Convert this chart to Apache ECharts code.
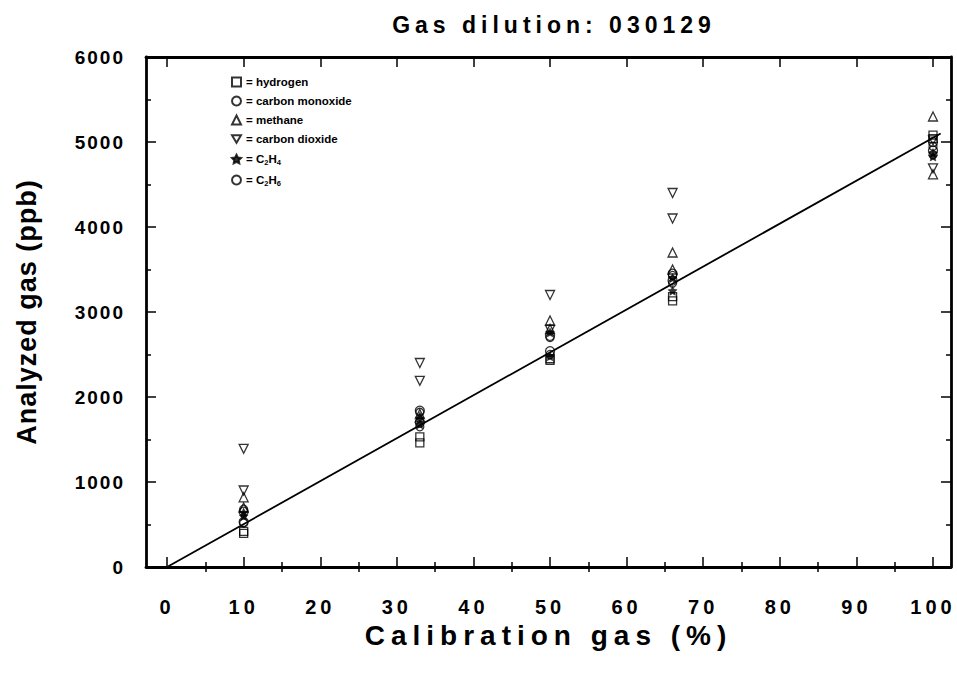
<!DOCTYPE html>
<html>
<head>
<meta charset="utf-8">
<script src="https://cdn.jsdelivr.net/npm/echarts@6/dist/echarts.min.js"></script>
<style>
  html, body { margin: 0; padding: 0; background: #fff; }
  #chart { width: 957px; height: 677px; }
</style>
</head>
<body>
<div id="chart"></div>
<script>
// Calibration gas levels (%) and analyzed concentrations (ppb), two runs per gas
const calibration = [10, 33, 50, 66, 100];

const hydrogen       = [[420, 1530, 2450, 3180, 5080], [395, 1460, 2430, 3130, 5040]];
const carbonMonoxide = [[650, 1840, 2720, 3450, 5000], [530, 1700, 2540, 3370, 4900]];
const methane        = [[820, 1800, 2900, 3700, 5300], [700, 1760, 2800, 3500, 4620]];
const carbonDioxide  = [[1390, 2400, 3200, 4400, 4690], [900, 2190, 2790, 4100, 5020]];
const ethylene       = [[640, 1750, 2760, 3400, 4830], [600, 1680, 2480, 3250, 4870]];
const ethane         = [[680, 1820, 2700, 3430, 4950], [520, 1650, 2500, 3340, 4850]];

// Fitted calibration line
const fitX = [0, 101];
const fitY = [0, 5100];

const xMajorTicks = [0, 10, 20, 30, 40, 50, 60, 70, 80, 90, 100];
const xMinorTicks = [5, 15, 25, 35, 45, 55, 65, 75, 85, 95];

const FONT = "'Liberation Sans', Arial, sans-serif";
const STAR = 'path://M0,-10L2.9,-4L9.5,-3.1L4.7,1.5L5.9,8.1L0,5L-5.9,8.1L-4.7,1.5L-9.5,-3.1L-2.9,-4Z';
const TRIANGLE_DOWN = 'path://M-5,-4.3L5,-4.3L0,4.3Z';

const gases = [
  { name: 'hydrogen', runs: hydrogen, symbol: 'rect', size: 8 },
  { name: 'carbon monoxide', runs: carbonMonoxide, symbol: 'circle', size: 9 },
  { name: 'methane', runs: methane, symbol: 'triangle', size: 9 },
  { name: 'carbon dioxide', runs: carbonDioxide, symbol: TRIANGLE_DOWN, size: 9 },
  { name: 'C2H4', runs: ethylene, symbol: STAR, size: 9, filled: true },
  { name: 'C2H6', runs: ethane, symbol: 'circle', size: 8 }
];

const legendLabels = {
  'hydrogen': '= hydrogen',
  'carbon monoxide': '= carbon monoxide',
  'methane': '= methane',
  'carbon dioxide': '= carbon dioxide',
  'C2H4': '= C{sub|2}H{sub|4}',
  'C2H6': '= C{sub|2}H{sub|6}'
};

const scatterSeries = gases.map(g => ({
  type: 'scatter',
  name: g.name,
  symbol: g.symbol,
  symbolSize: g.size,
  itemStyle: {
    color: g.filled ? '#000' : 'rgba(255,255,255,0)',
    borderColor: '#000',
    borderWidth: g.filled ? 0.5 : 1.3
  },
  emphasis: { disabled: true },
  data: g.runs.flatMap(run => run.map((v, i) => [calibration[i], v])),
  z: 3
}));

const axisLine = { show: true, onZero: false, lineStyle: { color: '#000', width: 2.8 } };
const X_MIN = -2.75, X_MAX = 102.35;

function xAxisPart(position, ticks, len, labels) {
  return {
    type: 'value', position, min: X_MIN, max: X_MAX,
    axisLine: labels !== null ? axisLine : { show: false },
    axisTick: { show: true, inside: true, length: len, customValues: ticks,
                lineStyle: { color: '#000', width: 1.5 } },
    axisLabel: labels ? {
      show: true, customValues: labels, margin: 30, color: '#000',
      fontFamily: FONT, fontWeight: 'bold', fontSize: 20
    } : { show: false },
    splitLine: { show: false }
  };
}

const xAxes = [
  Object.assign(xAxisPart('bottom', xMajorTicks, 10, xMajorTicks), {
    name: 'Calibration gas (%)', nameLocation: 'middle', nameGap: 51,
    nameTextStyle: { fontFamily: FONT, fontWeight: 'bold', fontSize: 28, color: '#000' }
  }),
  xAxisPart('bottom', xMinorTicks, 5, null),
  xAxisPart('top', xMajorTicks, 10, false),
  xAxisPart('top', xMinorTicks, 5, null)
];

function yAxisPart(position, showLabels) {
  return {
    type: 'value', position, min: 0, max: 6000, interval: 1000,
    axisLine: axisLine,
    axisTick: { show: true, inside: true, length: 10, lineStyle: { color: '#000', width: 1.5 } },
    minorTick: { show: true, splitNumber: 2, length: 5, lineStyle: { color: '#000', width: 1.5 } },
    axisLabel: showLabels ? {
      show: true, margin: 21, color: '#000',
      fontFamily: FONT, fontWeight: 'bold', fontSize: 19,
      formatter: v => String(v)
    } : { show: false },
    splitLine: { show: false },
    minorSplitLine: { show: false }
  };
}

const yAxes = [
  Object.assign(yAxisPart('left', true), {
    name: 'Analyzed gas (ppb)', nameLocation: 'middle', nameGap: 106,
    nameTextStyle: { fontFamily: FONT, fontWeight: 'bold', fontSize: 27, color: '#000' }
  }),
  yAxisPart('right', false)
];

const chart = echarts.init(document.getElementById('chart'), null, { renderer: 'svg' });

chart.setOption({
  animation: false,
  backgroundColor: '#fff',
  title: {
    text: 'Gas dilution: 030129',
    left: 549, textAlign: 'center', top: 8,
    textStyle: { fontFamily: FONT, fontWeight: 'bold', fontSize: 23, color: '#000' }
  },
  grid: { left: 146, right: 6, top: 57, bottom: 110, containLabel: false },
  legend: {
    orient: 'vertical', left: 226, top: 71,
    itemWidth: 9, itemHeight: 9, itemGap: 7,
    selectedMode: false,
    data: gases.map(g => g.name),
    formatter: name => legendLabels[name],
    textStyle: {
      fontFamily: FONT, fontWeight: 'bold', fontSize: 11.5, color: '#000', lineHeight: 12,
      rich: { sub: { fontFamily: FONT, fontWeight: 'bold', fontSize: 7.5, lineHeight: 7, padding: [6, 0, 0, 0] } }
    }
  },
  xAxis: xAxes,
  yAxis: yAxes,
  series: [
    {
      type: 'line', name: 'fit',
      data: fitX.map((x, i) => [x, fitY[i]]),
      symbol: 'none', silent: true,
      lineStyle: { color: '#000', width: 1.8 },
      z: 2
    },
    ...scatterSeries
  ]
});

// Widen letter spacing of the large bold labels, keyed by font size
const tracking = { 20: 4, 19: 2, 23: 5, 28: 6, 27: 1 };
function applyTracking() {
  document.querySelectorAll('#chart svg text').forEach(t => {
    const fs = parseFloat(getComputedStyle(t).fontSize);
    if (tracking[fs] != null) t.setAttribute('letter-spacing', tracking[fs] + 'px');
  });
}
chart.on('finished', applyTracking);
applyTracking();
</script>
</body>
</html>
